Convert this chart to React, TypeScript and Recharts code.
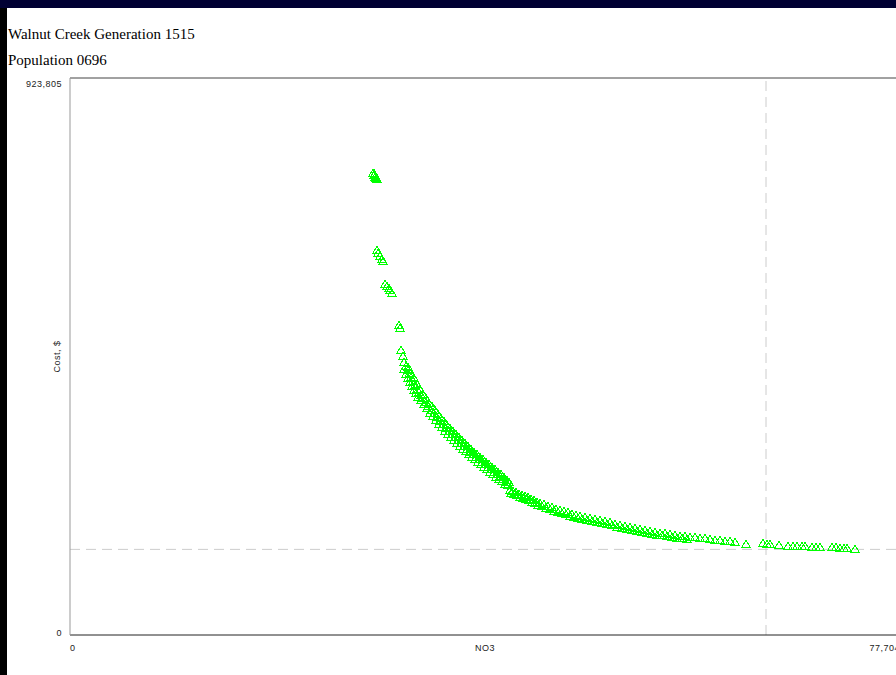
import React from 'react';
import { ScatterChart, Scatter, XAxis, YAxis, ReferenceLine } from 'recharts';

// NO3 (x) and cost (y) for each member of the population
const no3 = [
  28367, 28460, 28554, 28648, 28741, 28600, 28500,
  28741, 28835, 29022, 29209, 29303,
  29490, 29678, 29865, 29958, 30146,
  30801, 30895, 30988, 31175, 31269,
  31456, 31644, 31737, 31924, 32112, 32299, 32486, 32673, 32861, 33048,
  33329, 33516, 33797, 34078, 34359, 34639, 34920, 35201, 35482, 35763,
  36044, 36325, 36605, 36886, 37167, 37448, 37729, 38010, 38291, 38571,
  38852, 39133, 39414, 39695, 39976, 40257, 40537, 40818, 41006,
  41193, 41474, 41755, 42035, 42316, 42597, 42878, 43159, 43440, 43721,
  44001, 44376, 44750, 45125, 45499, 45874, 46248, 46623, 46997, 47372,
  47746, 48214, 48682, 49151, 49619, 50087, 50555, 51023, 51491, 51959,
  52427, 52895, 53363, 53832, 54300, 54768, 55236, 55704, 56172, 56640,
  57108, 57576, 58044, 58513, 58981, 59449, 59917, 60385, 60853, 61321,
  61789, 62257,
  63287, 64879, 65253, 65534, 66377, 67219, 67687, 68062, 68530, 68811,
  69466, 69841, 70215, 71338, 71713, 72087, 72462, 72743, 73492,
];

const cost = [
  766227, 762910, 759593, 757935, 756276, 761000, 764500,
  638523, 633547, 628572, 623596, 620279,
  582134, 578817, 575500, 572183, 567207,
  514135, 509160, 472673, 462722, 452771,
  446137, 439503, 432869, 427893, 421259, 414625, 407991, 403016, 398040, 393065,
  386431, 379797, 373163, 368187, 361553, 354919, 349944, 343310, 338334, 333359,
  328383, 323408, 318432, 313457, 308481, 303506, 300189, 295213, 291896, 286921,
  283604, 278628, 275311, 270336, 267019, 263702, 258726, 253751, 248775,
  240483, 238824, 237166, 233849, 232190, 230532, 228873, 225556, 223898, 220581,
  218922, 217264, 213947, 212288, 208971, 207313, 205654, 203996, 200679, 199020,
  197362, 195703, 194045, 192386, 190728, 189069, 187411, 184094, 182435, 180777,
  179118, 177460, 175801, 174143, 172484, 170826, 169167, 169167, 167509, 165850,
  164192, 164192, 162533, 162533, 160875, 160875, 159216, 157558, 157558, 155899,
  155899, 154241,
  150924, 152582, 150924, 150924, 149265, 147607, 147607, 147607, 147607, 147607,
  145948, 145948, 145948, 145948, 145948, 144290, 144290, 144290, 142631,
];

// the thick part of the front: members lying just off the centre of the band
const bandNo3 = [
  31644, 31924, 32205, 32486, 32767, 33048, 33329, 33610, 33890, 34171,
  34452, 34733, 35014, 35295, 35576, 35856, 36137, 36418, 36699, 36980,
  37261, 37542, 37822, 38103, 38384, 38665, 38946, 39227, 39508, 39789,
  40069, 40350, 40631, 40912, 41099,
  31269, 31456, 31644, 31831, 32018, 32205, 32392, 32580, 32861, 33141,
  33422, 33703, 33984, 34265, 34546, 34827, 35108, 35388, 35669, 35950,
  36231, 36512, 36793, 37074, 37354, 37635, 37916, 38197, 38478, 38759,
  39040, 39320, 39601, 39882, 40163, 40444, 40725,
  41286, 41567, 41848, 42129, 42410, 42691, 42972, 43252, 43533, 43814,
  44189, 44563, 44938, 45312, 45687, 46061, 46436, 46810, 47184, 47559,
  47933, 48402, 48870, 49338, 49806, 50274, 50742, 51210, 51678, 52146,
  52614, 53083, 53551, 54019, 54487, 54955, 55423, 55891, 56359, 56827,
  57295, 57764,
];

const bandCost = [
  444478, 434527, 426235, 416284, 407991, 399699, 393065, 384772, 379797, 373163,
  366529, 359895, 354919, 348285, 343310, 338334, 333359, 328383, 323408, 318432,
  313457, 308481, 303506, 300189, 295213, 291896, 286921, 283604, 278628, 275311,
  270336, 267019, 262043, 257068, 253751,
  441161, 432869, 426235, 419601, 412967, 406333, 401357, 394723, 389748, 383114,
  376480, 368187, 363212, 356578, 349944, 344968, 338334, 333359, 328383, 323408,
  318432, 313457, 308481, 305164, 300189, 295213, 291896, 286921, 283604, 278628,
  275311, 270336, 267019, 262043, 258726, 255410, 250434,
  235507, 233849, 232190, 228873, 227215, 225556, 223898, 220581, 218922, 215605,
  213947, 210630, 208971, 205654, 203996, 202337, 200679, 197362, 195703, 194045,
  192386, 190728, 189069, 187411, 185752, 184094, 182435, 179118, 177460, 175801,
  174143, 172484, 170826, 169167, 167509, 165850, 165850, 164192, 162533, 160875,
  160875, 159216,
];

const xTicks = [0, 77704];
const yTicks = [0, 923805];
const vLine = 65160;
const hLine = 142000;

const points = no3
  .map((x, i) => ({ x, y: cost[i] }))
  .concat(bandNo3.map((x, i) => ({ x, y: bandCost[i] })));

const fmt = (v: number) => v.toLocaleString('en-US');

const Tri = (p: any) => {
  const { cx, cy } = p;
  if (cx == null || cy == null) return null;
  return (
    <polygon
      points={`${cx},${cy - 4} ${cx - 4},${cy + 3} ${cx + 4},${cy + 3}`}
      fill="none"
      stroke="#00ff00"
      strokeWidth={1}
      shapeRendering="crispEdges"
    />
  );
};

const smallFont = { fontFamily: 'Liberation Sans, Arial, sans-serif', fontSize: 9, letterSpacing: 0.5 };

const YTick = (p: any) => {
  const { x, y, payload } = p;
  const dy = payload.value === 0 ? 1 : 9;
  return (
    <text x={x} y={y} dy={dy} textAnchor="end" fill="#222" style={smallFont}>
      {fmt(payload.value)}
    </text>
  );
};

const XTick = (p: any) => {
  const { x, y, payload } = p;
  const anchor = payload.value === 0 ? 'start' : 'end';
  return (
    <text x={x} y={y} dy={8} textAnchor={anchor} fill="#222" style={smallFont}>
      {fmt(payload.value)}
    </text>
  );
};

const titleStyle: React.CSSProperties = {
  position: 'absolute',
  left: 8,
  fontFamily: 'Liberation Serif, serif',
  fontSize: 15,
  lineHeight: '16px',
  color: '#000',
  whiteSpace: 'nowrap',
};

export default function App() {
  return (
    <div style={{ position: 'absolute', left: 0, top: 0, width: 896, height: 675, background: '#000', overflow: 'hidden' }}>
      <div style={{ position: 'absolute', left: 0, top: 0, width: 896, height: 8, background: '#000033' }} />
      <div style={{ position: 'absolute', left: 7, top: 8, width: 889, height: 667, background: '#fff' }} />
      <div style={{ ...titleStyle, top: 26 }}>Walnut Creek Generation 1515</div>
      <div style={{ ...titleStyle, top: 52 }}>Population 0696</div>
      <div style={{ position: 'absolute', left: 0, top: 0 }}>
        <ScatterChart width={912} height={675} margin={{ top: 78, right: 12, bottom: 0, left: 10 }}>
          <XAxis
            type="number"
            dataKey="x"
            domain={[0, 77704]}
            ticks={xTicks}
            height={40}
            tickLine={false}
            axisLine={{ stroke: '#222' }}
            tick={<XTick />}
            interval={0}
            label={{
              content: (lp: any) => {
                const vb = lp.viewBox;
                return (
                  <text x={vb.x + vb.width / 2} y={vb.y + 16} textAnchor="middle" fill="#222" style={smallFont}>
                    NO3
                  </text>
                );
              },
            }}
          />
          <YAxis
            type="number"
            dataKey="y"
            domain={[0, 923805]}
            ticks={yTicks}
            width={60}
            tickLine={false}
            axisLine={{ stroke: '#999' }}
            tick={<YTick />}
            interval={0}
            label={{
              content: (lp: any) => {
                const vb = lp.viewBox;
                const cx = vb.x + vb.width - 10;
                const cy = vb.y + vb.height / 2;
                return (
                  <text x={cx} y={cy} textAnchor="middle" fill="#222" style={smallFont} transform={`rotate(-90 ${cx} ${cy})`}>
                    Cost, $
                  </text>
                );
              },
            }}
          />
          <ReferenceLine y={923805} stroke="#444" />
          <ReferenceLine x={vLine} stroke="#cccccc" strokeDasharray="10 6" />
          <ReferenceLine y={hLine} stroke="#cccccc" strokeDasharray="10 6" />
          <Scatter data={points} shape={<Tri />} isAnimationActive={false} />
        </ScatterChart>
      </div>
    </div>
  );
}
